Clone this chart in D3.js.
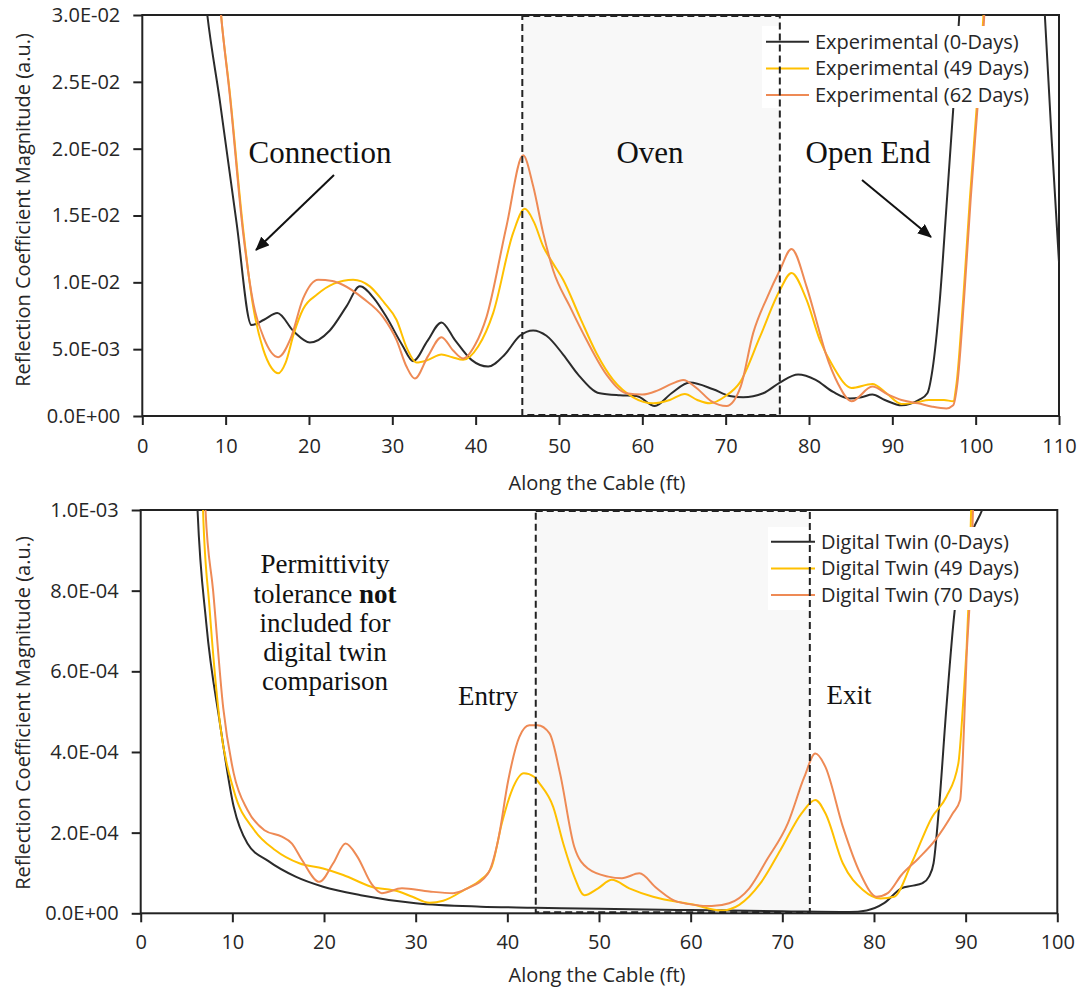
<!DOCTYPE html>
<html>
<head>
<meta charset="utf-8">
<script src="https://cdn.jsdelivr.net/npm/d3@7"></script>
<style>
  html, body { margin: 0; padding: 0; background: #fff; }
  svg { display: block; }
</style>
</head>
<body>
<svg id="chart" width="1081" height="990"></svg>
<script>
// ---- Experimental TDR reflection profiles: [distance along cable (ft), |Γ|] ----
const expDays0 = [[6.8,0.036],[7.8,0.0300],[9.3,0.0236],[11.3,0.0145],[13.1,0.0068],[14.6,0.0072],[16.2,0.0077],[18.2,0.0063],[20.1,0.0055],[22.5,0.0064],[24.5,0.0082],[26.1,0.0097],[27.8,0.0088],[29.3,0.0074],[31.2,0.0053],[32.5,0.0041],[34.2,0.0056],[35.9,0.0070],[37.5,0.0057],[39.5,0.0042],[41.5,0.0037],[43.5,0.0046],[45.3,0.0060],[46.9,0.0064],[48.5,0.0060],[50.5,0.0046],[52.3,0.0031],[54.9,0.0017],[57.3,0.00155],[59.3,0.0015],[61.5,0.00075],[63.5,0.0017],[65.7,0.0025],[68.5,0.0020],[70.5,0.0015],[72.1,0.0014],[74.5,0.0017],[76.5,0.0025],[78.7,0.0031],[80.8,0.0027],[82.9,0.0018],[84.9,0.0013],[86.3,0.0014],[87.6,0.0016],[89.1,0.0012],[91.1,0.0008],[93.2,0.0012],[94.2,0.0017],[94.8,0.0034],[95.7,0.0087],[96.5,0.0157],[97.3,0.0229],[98.0,0.0296],[98.6,0.036],[107.7,0.036],[108.3,0.0300],[109.1,0.0209],[110,0.0115]];
const expDays49 = [[8.7,0.036],[9.45,0.0300],[10.5,0.0242],[12.1,0.0140],[13.3,0.0082],[14.5,0.0050],[15.5,0.0036],[16.3,0.0032],[17.2,0.0040],[18.2,0.0062],[19.3,0.0080],[21.0,0.0091],[23.0,0.0099],[25.3,0.0102],[27.3,0.0097],[29.0,0.0085],[30.5,0.0072],[31.8,0.0050],[32.9,0.0040],[34.3,0.0042],[35.9,0.0046],[37.2,0.0044],[38.5,0.0042],[40.3,0.0052],[42.1,0.0077],[44.5,0.0137],[45.9,0.0155],[47.0,0.0145],[48.1,0.0127],[49.3,0.0114],[50.5,0.0102],[52.5,0.0074],[54.5,0.0047],[56.5,0.0027],[58.9,0.0014],[61.3,0.00095],[63.3,0.0012],[65.1,0.00165],[66.6,0.0012],[68.1,0.00095],[70.0,0.0015],[71.7,0.0025],[74.1,0.0059],[76.5,0.0094],[77.9,0.0107],[79.7,0.0087],[81.3,0.0057],[82.9,0.0037],[85.1,0.0021],[87.6,0.0024],[89.3,0.0017],[91.1,0.0009],[92.8,0.0010],[94.4,0.0012],[96.2,0.0012],[97.3,0.0011],[97.7,0.0024],[98.5,0.0087],[99.3,0.0162],[100.1,0.0229],[100.9,0.0296],[101.5,0.036]];
const expDays62 = [[8.7,0.036],[9.45,0.0300],[10.5,0.0240],[12.1,0.0137],[13.3,0.0085],[14.6,0.0058],[16.3,0.0044],[17.8,0.0058],[19.3,0.0088],[21.1,0.0102],[22.8,0.0101],[24.1,0.0098],[26.5,0.0088],[28.9,0.0074],[30.5,0.0057],[31.7,0.0037],[32.7,0.0028],[34.3,0.0045],[35.9,0.0059],[37.3,0.0049],[38.5,0.0043],[40.0,0.0054],[41.3,0.0074],[43.7,0.0142],[45.7,0.0195],[46.9,0.0172],[48.1,0.0137],[49.3,0.0109],[51.3,0.0082],[53.3,0.0057],[55.7,0.0031],[58.1,0.0017],[60.0,0.0016],[61.8,0.0019],[63.5,0.0024],[64.9,0.0027],[66.5,0.0021],[68.3,0.0011],[70.1,0.00075],[71.8,0.0022],[73.3,0.0062],[75.0,0.0089],[76.5,0.0109],[77.9,0.0125],[79.7,0.0097],[81.3,0.0062],[82.0,0.0047],[83.5,0.0024],[85.1,0.0011],[87.6,0.0022],[89.5,0.0016],[91.1,0.0012],[93.1,0.00095],[94.8,0.0007],[96.5,0.00057],[97.3,0.0008],[97.8,0.0024],[98.6,0.0087],[99.4,0.0162],[100.2,0.0229],[101.0,0.0296],[101.5,0.036]];

// ---- Digital twin simulated profiles ----
const twinDays0 = [[5.8,0.00125],[6.2,0.0010],[7.15,0.00072],[8.65,0.00047],[10.15,0.000264],[11.65,0.000173],[13.9,0.000130],[16.9,0.000091],[19.9,0.000066],[24.0,0.000045],[30.0,0.000025],[37.1,0.0000165],[43.0,0.000014],[50,0.000011],[60,0.000008],[70,0.000005],[77.3,0.000003],[79.2,0.000007],[81.1,0.000025],[83.0,0.000062],[84.1,0.000068],[85.3,0.000075],[86.0,0.000091],[86.5,0.000124],[87.1,0.000264],[87.9,0.00051],[88.8,0.00075],[89.8,0.00089],[90.9,0.000957],[91.8,0.0010],[92.5,0.00105]];
const twinDays49 = [[6.5,0.00125],[6.8,0.0010],[7.5,0.00076],[8.65,0.00047],[10.15,0.000305],[12.4,0.000206],[14.65,0.000157],[17.3,0.000124],[19.9,0.000111],[22.1,0.000095],[25.15,0.000066],[28.15,0.000054],[29.65,0.000041],[31.5,0.000026],[33.0,0.000031],[35.3,0.000058],[37.1,0.000083],[38.3,0.000116],[39.4,0.000223],[40.5,0.000305],[41.8,0.000347],[42.95,0.000338],[43.5,0.000322],[45.0,0.000264],[46.1,0.000173],[47.3,0.000091],[48.4,0.000045],[49.9,0.000062],[51.4,0.000083],[53.3,0.000062],[55.9,0.000041],[60.4,0.000021],[63.4,0.000007],[65.3,0.000021],[67.6,0.000074],[69.8,0.000157],[72.1,0.000248],[73.6,0.000281],[74.7,0.000248],[76.6,0.000124],[78.8,0.000058],[80.7,0.000037],[82.2,0.000041],[84.1,0.000124],[86.35,0.000239],[87.9,0.000289],[89.2,0.000371],[89.7,0.000512],[90.3,0.00076],[90.6,0.0010],[90.9,0.00125]];
const twinDays70 = [[6.8,0.00125],[7.07,0.0010],[7.9,0.00080],[9.0,0.00051],[10.15,0.000347],[11.65,0.000256],[13.5,0.000206],[15.4,0.000190],[16.5,0.000173],[17.6,0.000132],[19.5,0.000078],[21.0,0.000124],[22.35,0.000173],[23.65,0.000140],[25.15,0.000074],[26.3,0.000050],[28.5,0.000062],[31.5,0.000054],[34.1,0.000050],[35.65,0.000062],[37.9,0.000099],[39.0,0.000182],[40.1,0.000330],[41.3,0.000437],[42.4,0.000466],[43.3,0.000466],[44.6,0.000446],[45.75,0.000347],[47.3,0.000165],[48.8,0.000111],[51.0,0.000091],[52.5,0.000087],[54.4,0.000099],[56.3,0.000062],[58.5,0.000029],[62.3,0.000018],[64.2,0.000025],[66.4,0.000062],[68.3,0.000132],[70.6,0.000223],[72.4,0.000338],[73.6,0.000396],[74.7,0.000363],[76.6,0.000215],[78.5,0.000099],[80.3,0.000041],[81.5,0.000050],[83.0,0.000095],[84.85,0.000136],[86.7,0.000182],[88.6,0.000248],[89.4,0.000281],[89.7,0.000388],[90.1,0.000635],[90.5,0.00080],[90.8,0.0010],[91.0,0.00125]];

// ---- Legend labels, oven spans and axis ticks ----
const expLabels  = ["Experimental (0-Days)", "Experimental (49 Days)", "Experimental (62 Days)"];
const twinLabels = ["Digital Twin (0-Days)", "Digital Twin (49 Days)", "Digital Twin (70 Days)"];
const expOvenSpan  = [45.6, 76.5];
const twinOvenSpan = [43.1, 73.0];
const expXTicks  = [0,10,20,30,40,50,60,70,80,90,100,110];
const expYTicks  = [0, 0.005, 0.010, 0.015, 0.020, 0.025, 0.030];
const twinXTicks = [0,10,20,30,40,50,60,70,80,90,100];
const twinYTicks = [0, 0.0002, 0.0004, 0.0006, 0.0008, 0.0010];

const seriesColors = ["#2b2b2b", "#FFC000", "#EE8A55"];
const SANS = "'Open Sans', 'Noto Sans', sans-serif";
const SERIF = "'Liberation Serif', 'DejaVu Serif', serif";

// Scientific label in spreadsheet style: 2.5E-02, 0.0E+00
function sciLabel(v) {
  if (v === 0) return "0.0E+00";
  let e = Math.floor(Math.log10(Math.abs(v)) + 1e-9);
  let m = v / Math.pow(10, e);
  if (Math.abs(m) >= 9.95) { m /= 10; e += 1; }
  return m.toFixed(1) + "E" + (e < 0 ? "-" : "+") + String(Math.abs(e)).padStart(2, "0");
}

const svg = d3.select("#chart");
const defs = svg.append("defs");
defs.append("marker")
  .attr("id", "arrowHead")
  .attr("viewBox", "0 0 14 12")
  .attr("refX", 13).attr("refY", 6)
  .attr("markerWidth", 14).attr("markerHeight", 12)
  .attr("markerUnits", "userSpaceOnUse")
  .attr("orient", "auto")
  .append("path").attr("d", "M0,0 L14,6 L0,12 Z").attr("fill", "#111");

function drawPanel(cfg) {
  const { id, box, xDomain, yDomain, xTicks, yTicks, series, labels, oven, legend, titleY, yTitleCenter, xPad } = cfg;
  const x = d3.scaleLinear().domain(xDomain).range([box.left, box.right]);
  const y = d3.scaleLinear().domain(yDomain).range([box.bottom, box.top]);
  const g = svg.append("g");

  defs.append("clipPath").attr("id", "clip-" + id)
    .append("rect")
    .attr("x", box.left).attr("y", box.top)
    .attr("width", box.right - box.left).attr("height", box.bottom - box.top);

  // oven region shading
  g.append("rect")
    .attr("x", x(oven[0])).attr("y", y(yDomain[1]))
    .attr("width", x(oven[1]) - x(oven[0])).attr("height", y(yDomain[0]) - y(yDomain[1]))
    .attr("fill", "#f8f8f8");

  // axes
  const yAxis = d3.axisLeft(y).tickValues(yTicks).tickFormat(sciLabel).tickSize(9).tickSizeOuter(0).tickPadding(13);
  const xAxis = d3.axisBottom(x).tickValues(xTicks).tickFormat(d3.format("d")).tickSize(9).tickSizeOuter(0).tickPadding(xPad);
  const ya = g.append("g").attr("transform", `translate(${box.left},0)`).call(yAxis);
  const xa = g.append("g").attr("transform", `translate(0,${box.bottom})`).call(xAxis);
  [ya, xa].forEach(a => {
    a.selectAll("path.domain").remove();
    a.selectAll("line").attr("stroke", "#222").attr("stroke-width", 2);
    a.selectAll("text").attr("fill", "#262626").style("font-family", SANS).style("font-size", "20px");
  });

  // plot frame
  g.append("rect")
    .attr("x", box.left).attr("y", box.top)
    .attr("width", box.right - box.left).attr("height", box.bottom - box.top)
    .attr("fill", "none").attr("stroke", "#222").attr("stroke-width", 2);

  // data lines
  const line = d3.line().x(d => x(d[0])).y(d => y(d[1])).curve(d3.curveMonotoneX);
  const lg = g.append("g").attr("clip-path", `url(#clip-${id})`);
  series.forEach((s, i) => {
    lg.append("path").datum(s)
      .attr("d", line)
      .attr("fill", "none")
      .attr("stroke", seriesColors[i])
      .attr("stroke-width", 2)
      .attr("stroke-linejoin", "round");
  });

  // legend with white backing
  g.append("rect")
    .attr("x", legend.bg[0]).attr("y", legend.bg[1])
    .attr("width", legend.bg[2]).attr("height", legend.bg[3])
    .attr("fill", "#fff");
  labels.forEach((lab, i) => {
    const cy = legend.y0 + i * legend.dy;
    g.append("line")
      .attr("x1", legend.x1).attr("x2", legend.x2)
      .attr("y1", cy).attr("y2", cy)
      .attr("stroke", seriesColors[i]).attr("stroke-width", 2);
    g.append("text")
      .attr("x", legend.tx).attr("y", cy).attr("dy", "0.35em")
      .attr("fill", "#262626")
      .style("font-family", SANS).style("font-size", "20px")
      .text(lab);
  });

  // dashed oven outline
  g.append("rect")
    .attr("x", x(oven[0])).attr("y", y(yDomain[1]) + 1)
    .attr("width", x(oven[1]) - x(oven[0])).attr("height", y(yDomain[0]) - y(yDomain[1]) - 2)
    .attr("fill", "none")
    .attr("stroke", "#222").attr("stroke-width", 2)
    .attr("stroke-dasharray", "7,4");

  // axis titles
  g.append("text")
    .attr("x", 597).attr("y", titleY).attr("dy", "0.35em")
    .attr("text-anchor", "middle").attr("fill", "#262626")
    .style("font-family", SANS).style("font-size", "20px")
    .text("Along the Cable (ft)");
  g.append("text")
    .attr("transform", `translate(23,${yTitleCenter}) rotate(-90)`)
    .attr("dy", "0.35em")
    .attr("text-anchor", "middle").attr("fill", "#262626")
    .style("font-family", SANS).style("font-size", "20px")
    .text("Reflection Coefficient Magnitude (a.u.)");

  return g;
}

// ---- Top panel: experimental measurements ----
const topPanel = drawPanel({
  id: "exp",
  box: { left: 142.3, right: 1059, top: 15, bottom: 416 },
  xDomain: [0, 110], yDomain: [0, 0.03],
  xTicks: expXTicks, yTicks: expYTicks,
  series: [expDays0, expDays49, expDays62],
  labels: expLabels, oven: expOvenSpan,
  legend: { bg: [762, 26, 268, 82], x1: 766, x2: 809, tx: 815, y0: 41.7, dy: 26.7 },
  titleY: 483, yTitleCenter: 210, xPad: 14
});

function serifText(g, x, y, str, size) {
  return g.append("text")
    .attr("x", x).attr("y", y).attr("dy", "0.35em")
    .attr("text-anchor", "middle").attr("fill", "#111")
    .style("font-family", SERIF).style("font-size", size + "px")
    .text(str);
}
serifText(topPanel, 320, 152, "Connection", 31);
serifText(topPanel, 650, 152, "Oven", 31);
serifText(topPanel, 868, 152, "Open End", 31);
topPanel.append("line")
  .attr("x1", 334).attr("y1", 175).attr("x2", 256).attr("y2", 250)
  .attr("stroke", "#111").attr("stroke-width", 2).attr("marker-end", "url(#arrowHead)");
topPanel.append("line")
  .attr("x1", 862).attr("y1", 180).attr("x2", 931).attr("y2", 237)
  .attr("stroke", "#111").attr("stroke-width", 2).attr("marker-end", "url(#arrowHead)");

// ---- Bottom panel: digital twin ----
const botPanel = drawPanel({
  id: "twin",
  box: { left: 140.7, right: 1057.3, top: 510, bottom: 913.3 },
  xDomain: [0, 100], yDomain: [0, 0.001],
  xTicks: twinXTicks, yTicks: twinYTicks,
  series: [twinDays0, twinDays49, twinDays70],
  labels: twinLabels, oven: twinOvenSpan,
  legend: { bg: [768, 527, 246, 83], x1: 771, x2: 815, tx: 821, y0: 541.7, dy: 26.7 },
  titleY: 975, yTitleCenter: 713, xPad: 13
});

// multi-line note, one text element per line so centring holds
const noteLines = [["Permittivity"], ["tolerance ", "not"], ["included for"], ["digital twin"], ["comparison"]];
noteLines.forEach((parts, i) => {
  const t = botPanel.append("text")
    .attr("x", 325).attr("y", 564 + i * 29.1).attr("dy", "0.35em")
    .attr("text-anchor", "middle").attr("fill", "#111")
    .style("font-family", SERIF).style("font-size", "27px");
  parts.forEach((p, j) => {
    const s = t.append("tspan").text(p);
    if (j > 0) s.style("font-weight", "bold");
  });
});
serifText(botPanel, 488, 696, "Entry", 27);
serifText(botPanel, 849, 695, "Exit", 27);
</script>
</body>
</html>
